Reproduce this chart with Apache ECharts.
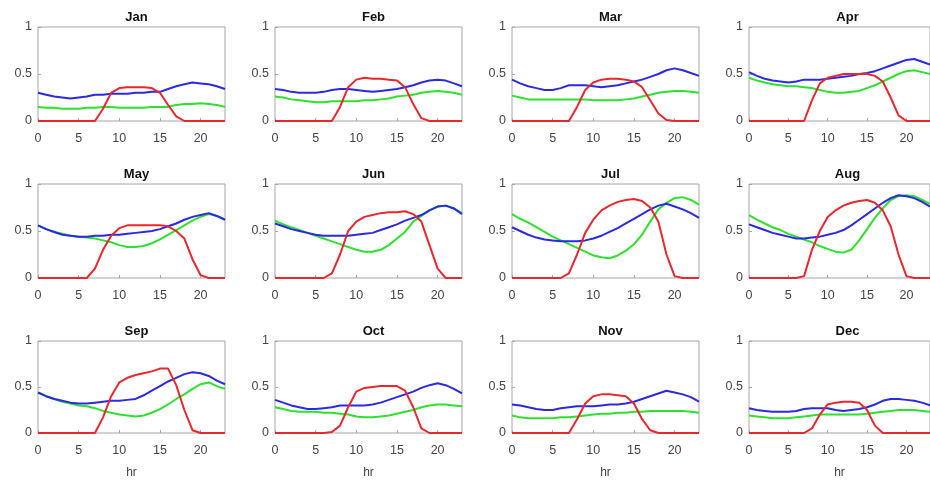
<!DOCTYPE html>
<html>
<head>
<meta charset="utf-8">
<script src="https://cdn.jsdelivr.net/npm/echarts@6/dist/echarts.min.js"></script>
<style>
html,body{margin:0;padding:0;background:#fff;}
#chart{width:930px;height:480px;}
</style>
</head>
<body>
<div id="chart"></div>
<script>
const months = ['Jan','Feb','Mar','Apr','May','Jun','Jul','Aug','Sep','Oct','Nov','Dec'];
const hours = [0,1,2,3,4,5,6,7,8,9,10,11,12,13,14,15,16,17,18,19,20,21,22,23];
const xTicks = [0,5,10,15,20];
const yTicks = [0,0.5,1];

const redJan = [0,0,0,0,0,0,0,0,0.13,0.30,0.35,0.36,0.36,0.36,0.35,0.30,0.17,0.05,0,0,0,0,0,0];
const greenJan = [0.15,0.14,0.14,0.13,0.13,0.13,0.14,0.14,0.15,0.15,0.14,0.14,0.14,0.14,0.15,0.15,0.15,0.17,0.18,0.18,0.19,0.18,0.17,0.15];
const blueJan = [0.30,0.28,0.26,0.25,0.24,0.25,0.26,0.28,0.28,0.29,0.29,0.29,0.30,0.30,0.31,0.31,0.34,0.37,0.39,0.41,0.40,0.39,0.37,0.34];

const redFeb = [0,0,0,0,0,0,0,0,0.15,0.36,0.44,0.46,0.45,0.45,0.44,0.43,0.36,0.18,0.03,0,0,0,0,0];
const greenFeb = [0.26,0.25,0.23,0.22,0.21,0.20,0.20,0.21,0.21,0.21,0.21,0.22,0.22,0.23,0.24,0.26,0.27,0.28,0.30,0.31,0.32,0.31,0.30,0.28];
const blueFeb = [0.34,0.33,0.31,0.30,0.30,0.30,0.31,0.33,0.34,0.34,0.33,0.32,0.31,0.32,0.33,0.34,0.36,0.38,0.41,0.43,0.44,0.43,0.40,0.37];

const redMar = [0,0,0,0,0,0,0,0,0.15,0.33,0.41,0.44,0.45,0.45,0.44,0.42,0.36,0.22,0.08,0.01,0,0,0,0];
const greenMar = [0.27,0.25,0.23,0.23,0.23,0.23,0.23,0.23,0.23,0.23,0.22,0.22,0.22,0.22,0.23,0.24,0.26,0.28,0.30,0.31,0.32,0.32,0.31,0.30];
const blueMar = [0.44,0.40,0.37,0.35,0.33,0.33,0.35,0.38,0.38,0.38,0.37,0.36,0.37,0.38,0.40,0.42,0.44,0.47,0.50,0.54,0.56,0.54,0.51,0.48];

const redApr = [0,0,0,0,0,0,0,0,0.22,0.40,0.46,0.48,0.50,0.50,0.50,0.50,0.48,0.42,0.25,0.06,0,0,0,0];
const greenApr = [0.46,0.43,0.41,0.39,0.38,0.37,0.37,0.36,0.35,0.33,0.31,0.30,0.30,0.31,0.32,0.35,0.38,0.42,0.46,0.50,0.53,0.54,0.52,0.50];
const blueApr = [0.52,0.48,0.45,0.43,0.42,0.41,0.42,0.44,0.44,0.44,0.45,0.46,0.47,0.48,0.50,0.51,0.53,0.56,0.59,0.62,0.65,0.66,0.63,0.60];

const redMay = [0,0,0,0,0,0,0,0.10,0.30,0.45,0.53,0.56,0.56,0.56,0.56,0.56,0.55,0.50,0.42,0.20,0.03,0,0,0];
const greenMay = [0.56,0.52,0.49,0.47,0.45,0.44,0.43,0.42,0.40,0.38,0.35,0.33,0.33,0.34,0.37,0.41,0.46,0.51,0.56,0.61,0.65,0.68,0.66,0.62];
const blueMay = [0.56,0.52,0.49,0.46,0.45,0.44,0.44,0.45,0.45,0.46,0.46,0.47,0.48,0.49,0.50,0.52,0.55,0.58,0.62,0.65,0.67,0.69,0.66,0.62];

const redJun = [0,0,0,0,0,0,0,0.05,0.25,0.50,0.60,0.65,0.67,0.69,0.70,0.70,0.71,0.68,0.60,0.35,0.10,0,0,0];
const greenJun = [0.61,0.57,0.54,0.51,0.48,0.45,0.42,0.39,0.36,0.33,0.30,0.28,0.28,0.30,0.35,0.42,0.49,0.60,0.66,0.72,0.76,0.77,0.74,0.69];
const blueJun = [0.58,0.55,0.52,0.50,0.48,0.46,0.45,0.45,0.45,0.45,0.46,0.47,0.48,0.51,0.54,0.57,0.61,0.64,0.67,0.72,0.76,0.77,0.74,0.68];

const redJul = [0,0,0,0,0,0,0,0.05,0.25,0.48,0.62,0.72,0.77,0.81,0.83,0.84,0.82,0.75,0.60,0.25,0.02,0,0,0];
const greenJul = [0.68,0.63,0.59,0.54,0.49,0.44,0.40,0.36,0.32,0.28,0.24,0.22,0.21,0.24,0.29,0.36,0.46,0.60,0.73,0.80,0.85,0.86,0.83,0.78];
const blueJul = [0.54,0.50,0.46,0.43,0.41,0.40,0.39,0.39,0.39,0.40,0.42,0.45,0.49,0.53,0.58,0.63,0.68,0.73,0.77,0.79,0.76,0.73,0.69,0.64];

const redAug = [0,0,0,0,0,0,0,0.02,0.30,0.50,0.65,0.72,0.77,0.80,0.82,0.83,0.80,0.72,0.55,0.25,0.02,0,0,0];
const greenAug = [0.67,0.62,0.58,0.54,0.51,0.47,0.44,0.41,0.38,0.34,0.31,0.28,0.27,0.30,0.40,0.52,0.64,0.74,0.83,0.87,0.88,0.87,0.83,0.79];
const blueAug = [0.57,0.54,0.51,0.48,0.46,0.44,0.42,0.42,0.43,0.44,0.46,0.48,0.51,0.56,0.62,0.68,0.74,0.80,0.85,0.88,0.87,0.85,0.81,0.76];

const redSep = [0,0,0,0,0,0,0,0,0.17,0.40,0.55,0.60,0.63,0.65,0.67,0.70,0.70,0.52,0.25,0.03,0,0,0,0];
const greenSep = [0.44,0.40,0.37,0.34,0.32,0.30,0.29,0.27,0.24,0.22,0.20,0.19,0.18,0.19,0.22,0.26,0.31,0.37,0.42,0.48,0.53,0.55,0.51,0.48];
const blueSep = [0.44,0.40,0.37,0.35,0.33,0.32,0.32,0.33,0.34,0.35,0.35,0.36,0.37,0.41,0.46,0.51,0.56,0.60,0.64,0.66,0.65,0.62,0.57,0.53];

const redOct = [0,0,0,0,0,0,0,0.01,0.08,0.28,0.45,0.49,0.50,0.51,0.51,0.51,0.46,0.28,0.05,0,0,0,0,0];
const greenOct = [0.28,0.26,0.24,0.23,0.23,0.23,0.22,0.22,0.21,0.20,0.18,0.17,0.17,0.18,0.19,0.21,0.23,0.25,0.28,0.30,0.31,0.31,0.30,0.29];
const blueOct = [0.36,0.33,0.30,0.28,0.26,0.26,0.27,0.28,0.30,0.30,0.30,0.30,0.31,0.33,0.36,0.39,0.42,0.45,0.49,0.52,0.54,0.52,0.48,0.43];

const redNov = [0,0,0,0,0,0,0,0,0.15,0.32,0.40,0.42,0.42,0.41,0.40,0.32,0.15,0.03,0,0,0,0,0,0];
const greenNov = [0.19,0.17,0.16,0.16,0.16,0.16,0.17,0.17,0.18,0.19,0.20,0.21,0.21,0.22,0.22,0.23,0.23,0.24,0.24,0.24,0.24,0.24,0.23,0.22];
const blueNov = [0.31,0.30,0.28,0.26,0.25,0.25,0.27,0.28,0.29,0.29,0.29,0.30,0.31,0.31,0.32,0.34,0.37,0.40,0.43,0.46,0.44,0.42,0.39,0.34];

const redDec = [0,0,0,0,0,0,0,0,0.05,0.20,0.31,0.33,0.34,0.34,0.33,0.25,0.08,0,0,0,0,0,0,0];
const greenDec = [0.19,0.18,0.17,0.16,0.16,0.16,0.17,0.18,0.19,0.20,0.20,0.20,0.20,0.20,0.20,0.21,0.22,0.23,0.24,0.25,0.25,0.25,0.24,0.23];
const blueDec = [0.27,0.25,0.24,0.23,0.23,0.23,0.24,0.26,0.27,0.27,0.27,0.25,0.24,0.25,0.26,0.28,0.31,0.35,0.37,0.37,0.36,0.35,0.33,0.30];

const redAll = [redJan,redFeb,redMar,redApr,redMay,redJun,redJul,redAug,redSep,redOct,redNov,redDec];
const greenAll = [greenJan,greenFeb,greenMar,greenApr,greenMay,greenJun,greenJul,greenAug,greenSep,greenOct,greenNov,greenDec];
const blueAll = [blueJan,blueFeb,blueMar,blueApr,blueMay,blueJun,blueJul,blueAug,blueSep,blueOct,blueNov,blueDec];

const chart = echarts.init(document.getElementById('chart'), null, {renderer:'canvas'});

const lefts = [38, 275, 512, 749];
const tops = [27, 184, 341];
const W = 187, H = 94;
const labelColor = '#444';
const font = 'Liberation Sans, Arial, sans-serif';

const grids = [], xAxes = [], yAxes = [], series = [], titles = [];
months.forEach((m, i) => {
  const r = Math.floor(i / 4), c = i % 4;
  grids.push({left: lefts[c], top: tops[r], width: W, height: H, show: true,
    borderColor: '#a6a6a6', borderWidth: 1, backgroundColor: '#fff', containLabel: false});
  titles.push({text: m, left: lefts[c] + W / 2, top: tops[r] - 21, textAlign: 'center',
    textStyle: {fontFamily: font, fontSize: 13, fontWeight: 'bold', color: '#111'}});
  xAxes.push({type: 'value', gridIndex: i, min: 0, max: 23, interval: 5,
    name: r === 2 ? 'hr' : '', nameLocation: 'middle', nameGap: 34,
    nameTextStyle: {fontFamily: font, fontSize: 12, color: labelColor},
    axisLine: {show: false}, splitLine: {show: false},
    axisTick: {show: true, inside: true, length: 3, lineStyle: {color: '#a6a6a6'}},
    axisLabel: {fontFamily: font, fontSize: 12.5, color: labelColor, margin: 11,
      showMaxLabel: false,
      formatter: v => xTicks.indexOf(v) >= 0 ? String(v) : ''}});
  yAxes.push({type: 'value', gridIndex: i, min: 0, max: 1, interval: 0.5,
    axisLine: {show: false}, splitLine: {show: false},
    axisTick: {show: true, inside: true, length: 3, lineStyle: {color: '#a6a6a6'}},
    axisLabel: {fontFamily: font, fontSize: 12.5, color: labelColor, margin: 6,
      formatter: v => yTicks.indexOf(v) >= 0 ? String(v) : ''}});
  const mk = (arr) => hours.map((h, k) => [h, arr[k]]);
  const common = {type: 'line', xAxisIndex: i, yAxisIndex: i, showSymbol: false,
    symbol: 'none', smooth: false, animation: false, clip: true};
  series.push(Object.assign({}, common, {data: mk(greenAll[i]), lineStyle: {color: '#2fe02f', width: 2}}));
  series.push(Object.assign({}, common, {data: mk(blueAll[i]), lineStyle: {color: '#2a2ae0', width: 2}}));
  series.push(Object.assign({}, common, {data: mk(redAll[i]), lineStyle: {color: '#e8282d', width: 2}}));
});

chart.setOption({
  animation: false,
  backgroundColor: '#fff',
  title: titles,
  grid: grids,
  xAxis: xAxes,
  yAxis: yAxes,
  series: series
});
</script>
</body>
</html>
